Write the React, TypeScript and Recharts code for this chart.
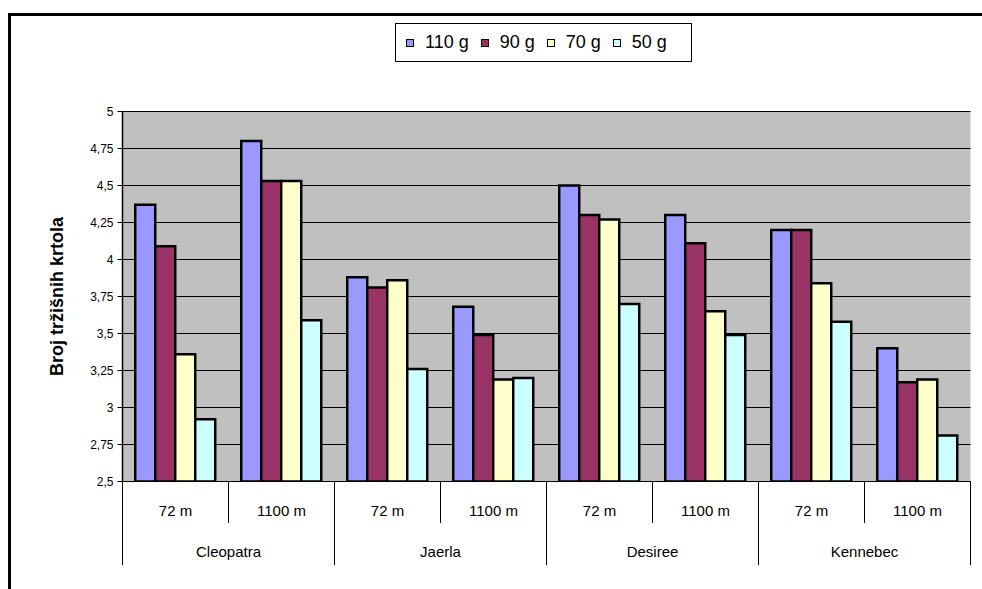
import { BarChart, Bar, XAxis, YAxis, CartesianGrid, Legend, Label } from "recharts";

const varieties = ["Cleopatra", "Jaerla", "Desiree", "Kennebec"];
const altitudes = ["72 m", "1100 m"];
const seriesNames = ["110 g", "90 g", "70 g", "50 g"];
const seriesColors = ["#9999FF", "#993366", "#FFFFCC", "#CCFFFF"];
const yTicks = [2.5, 2.75, 3, 3.25, 3.5, 3.75, 4, 4.25, 4.5, 4.75, 5];

// one value per variety/altitude pair, in the order the chart reads
const g110 = [4.37, 4.8, 3.88, 3.68, 4.5, 4.3, 4.2, 3.4];
const g90 = [4.09, 4.53, 3.81, 3.49, 4.3, 4.11, 4.2, 3.17];
const g70 = [3.36, 4.53, 3.86, 3.19, 4.27, 3.65, 3.84, 3.19];
const g50 = [2.92, 3.59, 3.26, 3.2, 3.7, 3.49, 3.58, 2.81];
const seriesValues = [g110, g90, g70, g50];

const rows = varieties.flatMap((variety, vi) =>
  altitudes.map((altitude, ai) => {
    const i = vi * altitudes.length + ai;
    const row: Record<string, string | number> = { variety, altitude };
    seriesValues.forEach((vals, si) => (row[`s${si}`] = vals[i]));
    return row;
  }),
);

const W = 982;
const H = 589;
// half-pixel edges keep the 1px grid and separator lines crisp
const PLOT_LEFT = 122.5;
const PLOT_RIGHT = 970.5;
const PLOT_TOP = 111.5;
const PLOT_BOTTOM = 481.5;
const BAND = (PLOT_RIGHT - PLOT_LEFT) / rows.length;
const FONT = "'Liberation Sans', Arial, sans-serif";

function AltitudeTick(props: any) {
  const { x, payload, index } = props;
  const half = BAND / 2;
  const first = index % 2 === 0;
  return (
    <g>
      <line x1={x - half} x2={x - half} y1={PLOT_BOTTOM} y2={first ? 565 : 523} stroke="#000" />
      {index === rows.length - 1 && <line x1={x + half} x2={x + half} y1={PLOT_BOTTOM} y2={565} stroke="#000" />}
      <text x={x} y={516} textAnchor="middle" fontSize={15} fill="#000" fontFamily={FONT}>
        {payload.value}
      </text>
      {!first && (
        <text x={x - half} y={557} textAnchor="middle" fontSize={15} fill="#000" fontFamily={FONT}>
          {rows[index].variety}
        </text>
      )}
    </g>
  );
}

function AxisTitle(props: any) {
  const vb = props.viewBox || {};
  const cx = vb.x != null ? vb.x - 6 : 57;
  const cy = vb.y != null ? vb.y + vb.height / 2 : (PLOT_TOP + PLOT_BOTTOM) / 2;
  return (
    <text
      x={cx}
      y={cy}
      transform={`rotate(-90, ${cx}, ${cy})`}
      textAnchor="middle"
      dominantBaseline="central"
      fontSize={18}
      fontWeight="bold"
      fill="#000"
      fontFamily={FONT}
    >
      Broj tržišnih krtola
    </text>
  );
}

function LegendBox() {
  return (
    <div
      style={{
        boxSizing: "border-box",
        width: 297,
        height: 39,
        border: "1px solid #000",
        background: "#fff",
        display: "flex",
        alignItems: "center",
        paddingLeft: 10,
        fontFamily: FONT,
        fontSize: 18,
        color: "#000",
      }}
    >
      {seriesNames.map((name, i) => (
        <div key={name} style={{ display: "flex", alignItems: "center", marginRight: 12 }}>
          <span
            style={{
              display: "inline-block",
              width: 6,
              height: 6,
              border: "1.5px solid #000",
              background: seriesColors[i],
              marginRight: 11,
            }}
          />
          <span>{name}</span>
        </div>
      ))}
    </div>
  );
}

export default function App() {
  return (
    <div style={{ position: "absolute", left: 0, top: 0, width: W, height: H, overflow: "hidden", fontFamily: FONT, background: "#fff" }}>
      <div
        style={{
          position: "absolute",
          left: 8,
          top: 13,
          width: 1000,
          height: 1000,
          border: "3px solid #000",
          boxSizing: "border-box",
        }}
      />
      <div style={{ position: "absolute", left: 0, top: 0 }}>
        <BarChart
          width={W}
          height={H}
          data={rows}
          margin={{ top: PLOT_TOP, right: W - PLOT_RIGHT, bottom: 0, left: PLOT_LEFT - 60 }}
          barCategoryGap="12%"
          barGap={0}
        >
          <CartesianGrid vertical={false} stroke="#000" fill="#C0C0C0" />
          <XAxis
            dataKey="altitude"
            height={H - PLOT_BOTTOM}
            interval={0}
            tickLine={false}
            axisLine={{ stroke: "#000" }}
            tick={<AltitudeTick />}
          />
          <XAxis xAxisId="frame" orientation="top" height={0} tick={false} tickLine={false} axisLine={{ stroke: "#808080", strokeWidth: 3 }} />
          <YAxis
            domain={[2.5, 5]}
            ticks={yTicks}
            interval={0}
            allowDataOverflow
            width={60}
            tickSize={5}
            tickMargin={4}
            tickFormatter={(v: number) => String(v).replace(".", ",")}
            axisLine={{ stroke: "#000", strokeWidth: 1.5 }}
            tickLine={{ stroke: "#000" }}
            tick={{ fontSize: 12, fill: "#000", fontFamily: FONT }}
          >
            <Label content={<AxisTitle />} />
          </YAxis>
          <YAxis yAxisId="frame" orientation="right" domain={[2.5, 5]} width={0} tick={false} tickLine={false} axisLine={{ stroke: "#808080", strokeWidth: 3 }} />
          <Legend
            layout="horizontal"
            verticalAlign="middle"
            align="center"
            wrapperStyle={{ left: 395, top: 23, width: 297, height: 39 }}
            content={<LegendBox />}
          />
          {seriesNames.map((name, i) => (
            <Bar
              key={name}
              dataKey={`s${i}`}
              name={name}
              fill={seriesColors[i]}
              stroke="#000"
              strokeWidth={2.5}
              isAnimationActive={false}
            />
          ))}
        </BarChart>
      </div>
    </div>
  );
}
